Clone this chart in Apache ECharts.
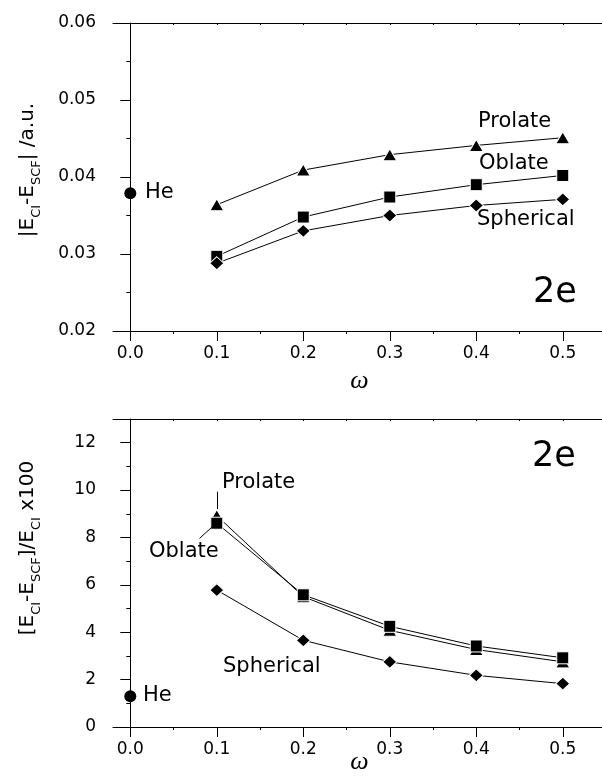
<!DOCTYPE html>
<html>
<head>
<meta charset="utf-8">
<script src="https://cdn.jsdelivr.net/npm/echarts@6/dist/echarts.min.js"></script>
<style>
  html, body { margin: 0; padding: 0; background: #fff; }
  #chart { width: 602px; height: 780px; }
</style>
</head>
<body>
<div id="chart"></div>
<script>
// ---- data ----
const omega = [0.1, 0.2, 0.3, 0.4, 0.5];
const xMajorTicks = [0.0, 0.1, 0.2, 0.3, 0.4, 0.5];
const xMinorTicks = [0.05, 0.15, 0.25, 0.35, 0.45];

// Panel 1: |E_CI - E_SCF| (a.u.)
const topProlate   = [0.0364, 0.0409, 0.0429, 0.0441, 0.0451];
const topOblate    = [0.0297, 0.0348, 0.0374, 0.0390, 0.0402];
const topSpherical = [0.0288, 0.0330, 0.0350, 0.0363, 0.0371];
const topHe        = [[0.0, 0.0379]];
const topYMajor = [0.02, 0.03, 0.04, 0.05, 0.06];
const topYMinor = [0.025, 0.035, 0.045, 0.055];

// Panel 2: [E_CI - E_SCF]/E_CI x100
const botProlate   = [8.92, 5.50, 4.08, 3.27, 2.75];
const botOblate    = [8.60, 5.58, 4.25, 3.42, 2.92];
const botSpherical = [5.78, 3.66, 2.75, 2.18, 1.83];
const botHe        = [[0.0, 1.30]];
const botYMajor = [0, 2, 4, 6, 8, 10, 12];
const botYMinor = [1, 3, 5, 7, 9, 11, 13];

// ---- helpers ----
const FONT = 'DejaVu Sans';
const pair = (xs, ys) => xs.map((x, i) => [x, ys[i]]);

function xAxesFor(grid, nameGap) {
  return [
    { gridIndex: grid, type: 'value', position: 'bottom', min: -0.02, max: 0.55,
      axisLine: { show: true, lineStyle: { color: '#000', width: 1 } },
      axisTick: { show: true, inside: false, length: 10, customValues: xMajorTicks, lineStyle: { color: '#000' } },
      axisLabel: { show: true, customValues: xMajorTicks, margin: 14, color: '#000', fontFamily: FONT, fontSize: 17,
                   formatter: v => v.toFixed(1) },
      splitLine: { show: false },
      name: 'ω', nameLocation: 'middle', nameGap: nameGap, nameMoveOverlap: false,
      nameTextStyle: { fontFamily: 'Liberation Serif', fontStyle: 'italic', fontSize: 26, color: '#000' } },
    { gridIndex: grid, type: 'value', position: 'bottom', min: -0.02, max: 0.55,
      axisLine: { show: false },
      axisTick: { show: true, inside: false, length: 3, customValues: xMinorTicks, lineStyle: { color: '#000' } },
      axisLabel: { show: false }, splitLine: { show: false } },
    { gridIndex: grid, type: 'value', position: 'top', min: -0.02, max: 0.55,
      axisLine: { show: true, lineStyle: { color: '#000', width: 1 } },
      axisTick: { show: true, inside: true, length: 2, customValues: xMajorTicks.concat(xMinorTicks), lineStyle: { color: '#000' } },
      axisLabel: { show: false }, splitLine: { show: false } }
  ];
}

function yAxesFor(grid, min, max, major, minor, digits, name, pad) {
  return [
    { gridIndex: grid, type: 'value', position: 'left', min: min, max: max,
      axisLine: { show: true, lineStyle: { color: '#000', width: 1 } },
      axisTick: { show: true, inside: false, length: 10, customValues: major, lineStyle: { color: '#000' } },
      axisLabel: { show: true, customValues: major, margin: 17, color: '#000', fontFamily: FONT, fontSize: 17,
                   formatter: v => v.toFixed(digits) },
      splitLine: { show: false },
      name: name, nameLocation: 'middle', nameRotate: 90, nameGap: 70, nameMoveOverlap: false,
      nameTextStyle: {
        color: '#000', fontFamily: FONT, fontSize: 20, padding: pad,
        rich: {
          m: { fontFamily: FONT, fontSize: 20, lineHeight: 30, verticalAlign: 'middle', color: '#000' },
          s: { fontFamily: FONT, fontSize: 13, lineHeight: 30, verticalAlign: 'bottom', color: '#000' }
        }
      } },
    { gridIndex: grid, type: 'value', position: 'left', min: min, max: max,
      axisLine: { show: false },
      axisTick: { show: true, inside: false, length: 4, customValues: minor, lineStyle: { color: '#000' } },
      axisLabel: { show: false }, splitLine: { show: false } }
  ];
}

const mk = { color: '#000', borderColor: '#fff', borderWidth: 1, opacity: 1 };
function lineSeries(name, xi, yi, data, symbol, size) {
  return { name: name, type: 'line', xAxisIndex: xi, yAxisIndex: yi, data: data,
           symbol: symbol, symbolSize: size, showSymbol: true,
           lineStyle: { color: '#000', width: 1 }, itemStyle: mk, z: 3 };
}

const leader = { symbol: ['none', 'none'], silent: true, animation: false,
                 lineStyle: { color: '#000', width: 1, type: 'solid' }, label: { show: false } };

const txt = (x, y, text, size) => ({
  type: 'text', x: x, y: y, silent: true,
  style: { text: text, fill: '#000', font: size + 'px "' + FONT + '"', align: 'left', verticalAlign: 'middle' }
});

const option = {
  backgroundColor: '#fff',
  animation: false,
  grid: [
    { left: 113, top: 23, width: 493, height: 308, outerBoundsMode: 'none', containLabel: false },
    { left: 113, top: 419, width: 493, height: 308, outerBoundsMode: 'none', containLabel: false }
  ],
  xAxis: xAxesFor(0, 37).concat(xAxesFor(1, 22)),
  yAxis: yAxesFor(0, 0.02, 0.06, topYMajor, topYMinor, 2,
                  '{m||E}{s|CI}{m|-E}{s|SCF}{m|| /a.u.}', [0, 0, 0, 14])
        .concat(yAxesFor(1, 0, 13, botYMajor, botYMinor, 0,
                  '{m|[E}{s|CI}{m|-E}{s|SCF}{m|]/E}{s|CI}{m| x100}', [0, 0, 0, 50])),
  series: [
    lineSeries('Prolate', 0, 0, pair(omega, topProlate), 'triangle', [14, 12]),
    lineSeries('Oblate', 0, 0, pair(omega, topOblate), 'rect', [12, 12]),
    lineSeries('Spherical', 0, 0, pair(omega, topSpherical), 'diamond', [14, 13]),
    { name: 'He', type: 'scatter', xAxisIndex: 0, yAxisIndex: 0, data: topHe, symbol: 'circle', symbolSize: 12,
      itemStyle: { color: '#000', opacity: 1 } },

    Object.assign(lineSeries('Prolate', 3, 2, pair(omega, botProlate), 'triangle', [14, 12]), {
      markLine: Object.assign({ data: [[{ coord: [0.1, 9.2] }, { coord: [0.1, 9.93] }]] }, leader) }),
    Object.assign(lineSeries('Oblate', 3, 2, pair(omega, botOblate), 'rect', [12, 12]), {
      markLine: Object.assign({ data: [[{ coord: [0.1, 8.62] }, { coord: [0.08, 7.96] }]] }, leader) }),
    lineSeries('Spherical', 3, 2, pair(omega, botSpherical), 'diamond', [14, 13]),
    { name: 'He', type: 'scatter', xAxisIndex: 3, yAxisIndex: 2, data: botHe, symbol: 'circle', symbolSize: 12,
      itemStyle: { color: '#000', opacity: 1 } }
  ],
  graphic: [
    txt(478, 122, 'Prolate', 21),
    txt(479, 164, 'Oblate', 21),
    txt(477, 220, 'Spherical', 21),
    txt(533, 293, '2e', 35),
    txt(145, 193, 'He', 21),
    txt(222, 483, 'Prolate', 21),
    txt(149, 552, 'Oblate', 21),
    txt(223, 667, 'Spherical', 21),
    txt(143, 696, 'He', 21),
    txt(532, 457, '2e', 35)
  ]
};

const chart = echarts.init(document.getElementById('chart'), null, { renderer: 'canvas' });
chart.setOption(option);
</script>
</body>
</html>
